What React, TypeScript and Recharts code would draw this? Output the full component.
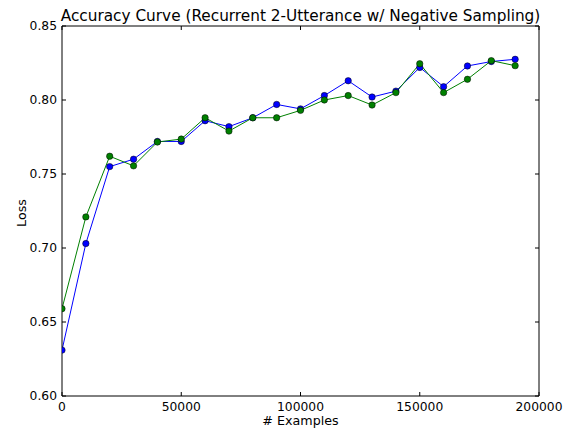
import React from 'react';
import { LineChart, Line, XAxis, YAxis, Label } from 'recharts';

const examples = [0, 10000, 20000, 30000, 40000, 50000, 60000, 70000, 80000, 90000, 100000, 110000, 120000, 130000, 140000, 150000, 160000, 170000, 180000, 190000];
const blueSeries = [0.631, 0.703, 0.755, 0.760, 0.772, 0.772, 0.786, 0.782, 0.788, 0.797, 0.794, 0.803, 0.813, 0.802, 0.806, 0.822, 0.809, 0.823, 0.826, 0.8275];
const greenSeries = [0.659, 0.721, 0.762, 0.7555, 0.7716, 0.7736, 0.788, 0.779, 0.788, 0.788, 0.793, 0.800, 0.803, 0.7966, 0.805, 0.8245, 0.805, 0.814, 0.8266, 0.8232];
const xTicks = [0, 50000, 100000, 150000, 200000];
const yTicks = [0.6, 0.65, 0.7, 0.75, 0.8, 0.85];

const data = examples.map((x, i) => ({ x, blue: blueSeries[i], green: greenSeries[i] }));

const FONT = '"DejaVu Sans", sans-serif';
const TICK_FS = 12.3;
const LABEL_FS = 12.7;
const TITLE_FS = 15.3;

const BottomTick = (props: any) => {
  const { x, y, payload } = props;
  return (
    <g>
      <line x1={x} x2={x} y1={y} y2={y - 4} stroke="#000" strokeWidth={1} />
      <text x={x} y={y + 14.5} textAnchor="middle" fontSize={TICK_FS} fontFamily={FONT} fill="#000">
        {String(payload.value)}
      </text>
    </g>
  );
};

const TopTick = (props: any) => {
  const { x, y } = props;
  return <line x1={x} x2={x} y1={y} y2={y + 4} stroke="#000" strokeWidth={1} />;
};

const LeftTick = (props: any) => {
  const { x, y, payload } = props;
  return (
    <g>
      <line x1={x} x2={x + 4} y1={y} y2={y} stroke="#000" strokeWidth={1} />
      <text x={x - 5} y={y} dy="0.36em" textAnchor="end" fontSize={TICK_FS} fontFamily={FONT} fill="#000">
        {Number(payload.value).toFixed(2)}
      </text>
    </g>
  );
};

const RightTick = (props: any) => {
  const { x, y } = props;
  return <line x1={x} x2={x - 4} y1={y} y2={y} stroke="#000" strokeWidth={1} />;
};

const YLabel = (props: any) => {
  const vb = props.viewBox || { x: 0, y: 26, width: 62, height: 370 };
  const cx = vb.x + 21;
  const cy = vb.y + vb.height / 2 + 2;
  return (
    <text x={cx} y={cy} transform={`rotate(-90 ${cx} ${cy})`} textAnchor="middle" dominantBaseline="central" fontSize={LABEL_FS} fontFamily={FONT} fill="#000">
      Loss
    </text>
  );
};

export default function App() {
  return (
    <div style={{ position: 'absolute', left: 0, top: 0, background: '#fff' }}>
      <LineChart width={576} height={432} data={data} margin={{ top: 0, right: 0, left: 0, bottom: 0 }}>
        <XAxis
          xAxisId="b"
          dataKey="x"
          type="number"
          domain={[0, 200000]}
          ticks={xTicks}
          allowDataOverflow
          height={36}
          stroke="#000"
          axisLine={{ stroke: '#000', strokeWidth: 1 }}
          tickLine={false}
          tickSize={0}
          tickMargin={0}
          tick={<BottomTick />}
          interval={0}
        >
          <Label position="insideBottom" offset={7} value="# Examples" fontSize={LABEL_FS} fontFamily={FONT} fill="#000" />
        </XAxis>
        <XAxis
          xAxisId="t"
          orientation="top"
          dataKey="x"
          type="number"
          domain={[0, 200000]}
          ticks={xTicks}
          allowDataOverflow
          height={26}
          axisLine={{ stroke: '#000', strokeWidth: 1 }}
          tickLine={false}
          tickSize={0}
          tickMargin={0}
          tick={<TopTick />}
          interval={0}
        >
          <Label
            position="insideBottom"
            offset={5}
            value="Accuracy Curve (Recurrent 2-Utterance w/ Negative Sampling)"
            fontSize={TITLE_FS}
            fontFamily={FONT}
            fill="#000"
          />
        </XAxis>
        <YAxis
          yAxisId="l"
          type="number"
          domain={[0.6, 0.85]}
          ticks={yTicks}
          allowDataOverflow
          width={62}
          axisLine={{ stroke: '#000', strokeWidth: 1 }}
          tickLine={false}
          tickSize={0}
          tickMargin={0}
          tick={<LeftTick />}
          interval={0}
        >
          <Label content={<YLabel />} />
        </YAxis>
        <YAxis
          yAxisId="r"
          orientation="right"
          type="number"
          domain={[0.6, 0.85]}
          ticks={yTicks}
          allowDataOverflow
          width={37}
          axisLine={{ stroke: '#000', strokeWidth: 1 }}
          tickLine={false}
          tickSize={0}
          tickMargin={0}
          tick={<RightTick />}
          interval={0}
        />
        <Line
          xAxisId="b"
          yAxisId="l"
          dataKey="blue"
          stroke="#0000ff"
          strokeWidth={1}
          dot={{ r: 3.2, fill: '#0000ff', stroke: '#000', strokeWidth: 0.5 }}
          isAnimationActive={false}
        />
        <Line
          xAxisId="b"
          yAxisId="l"
          dataKey="green"
          stroke="#008000"
          strokeWidth={1}
          dot={{ r: 3.2, fill: '#008000', stroke: '#000', strokeWidth: 0.5 }}
          isAnimationActive={false}
        />
      </LineChart>
    </div>
  );
}
